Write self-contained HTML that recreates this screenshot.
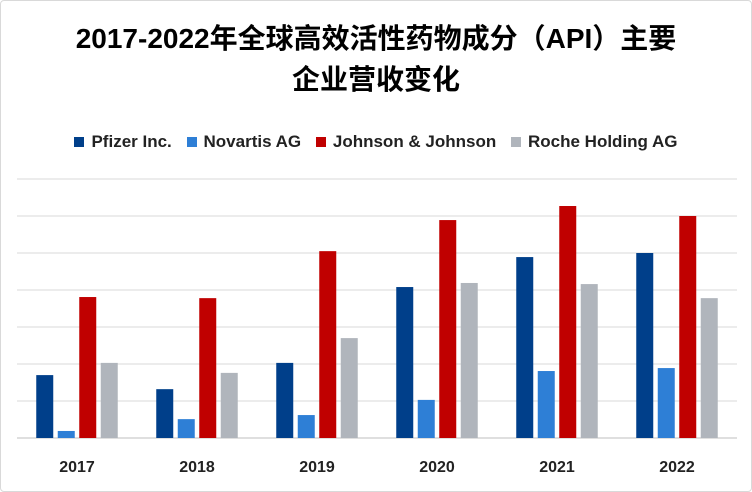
<!DOCTYPE html>
<html><head><meta charset="utf-8"><style>
body{margin:0;background:#fff;}
#wrap{position:relative;width:750px;height:490px;border:1px solid #d9d9d9;border-radius:4px;background:#fff;overflow:hidden;font-family:"Liberation Sans","Noto Sans CJK SC",sans-serif;}
#title{position:absolute;left:-1px;top:17px;width:752px;text-align:center;font-weight:bold;font-size:28px;line-height:41px;color:#000;}
#legend{position:absolute;left:-1px;top:131px;width:752px;text-align:center;font-size:17px;font-weight:bold;color:#222;}
.li{display:inline-block;margin:0 5px;}
.sw{display:inline-block;width:10px;height:10px;margin-right:7px;vertical-align:0;}
svg{position:absolute;left:-1px;top:-1px;}
</style></head><body>
<div id="wrap">
<div id="title">2017-2022年全球高效活性药物成分（API）主要<br>企业营收变化</div>
<div id="legend">
<span class="li"><span class="sw" style="background:#003f8a"></span>Pfizer Inc.</span>
<span class="li"><span class="sw" style="background:#2e7fd6"></span>Novartis AG</span>
<span class="li"><span class="sw" style="background:#c00000"></span>Johnson &amp; Johnson</span>
<span class="li"><span class="sw" style="background:#b0b5bc"></span>Roche Holding AG</span>
</div>
<svg id="chart" width="752" height="492"></svg>
</div>
<script>
const categories=["2017","2018","2019","2020","2021","2022"];
const pfizer=[1.7,1.32,2.03,4.08,4.89,5.0];
const novartis=[0.19,0.51,0.62,1.03,1.81,1.89];
const jnj=[3.81,3.78,5.05,5.89,6.27,6.0];
const roche=[2.03,1.76,2.7,4.19,4.16,3.78];
const gridTicks=[0,1,2,3,4,5,6,7];
const series=[{name:"pfizer",v:pfizer,c:"#003f8a"},{name:"novartis",v:novartis,c:"#2e7fd6"},{name:"jnj",v:jnj,c:"#c00000"},{name:"roche",v:roche,c:"#b0b5bc"}];
const ns="http://www.w3.org/2000/svg";
const svg=document.getElementById("chart");
const x0=17,cw=120,base=438,unit=37;
const y=v=>base-v*unit;
const xc=i=>x0+cw*i+cw/2;
gridTicks.forEach(t=>{
 const l=document.createElementNS(ns,"line");
 
 
 l.setAttribute("x1",x0);l.setAttribute("x2",x0+cw*6);
 l.setAttribute("y1",y(t));l.setAttribute("y2",y(t));
 l.setAttribute("stroke",t===0?"#bfbfbf":"#d9d9d9");l.setAttribute("stroke-width","1");
 svg.appendChild(l);
});
const bw=17,gap=4.5;
categories.forEach((c,i)=>{
 series.forEach((s,j)=>{
  const r=document.createElementNS(ns,"rect");
  
  
  const bx=xc(i)-(4*bw+3*gap)/2+j*(bw+gap);
  r.setAttribute("x",bx);r.setAttribute("width",bw);
  r.setAttribute("y",y(s.v[i]));r.setAttribute("height",base-y(s.v[i]));
  r.setAttribute("fill",s.c);
  svg.appendChild(r);
 });
 const t=document.createElementNS(ns,"text");
 
 
 t.setAttribute("x",xc(i));t.setAttribute("y",472);
 t.setAttribute("text-anchor","middle");t.setAttribute("font-size","16");t.setAttribute("font-weight","bold");
 t.setAttribute("font-family","Liberation Sans, sans-serif");t.setAttribute("fill","#222");
 t.textContent=c;svg.appendChild(t);
});
</script>
</body></html>
